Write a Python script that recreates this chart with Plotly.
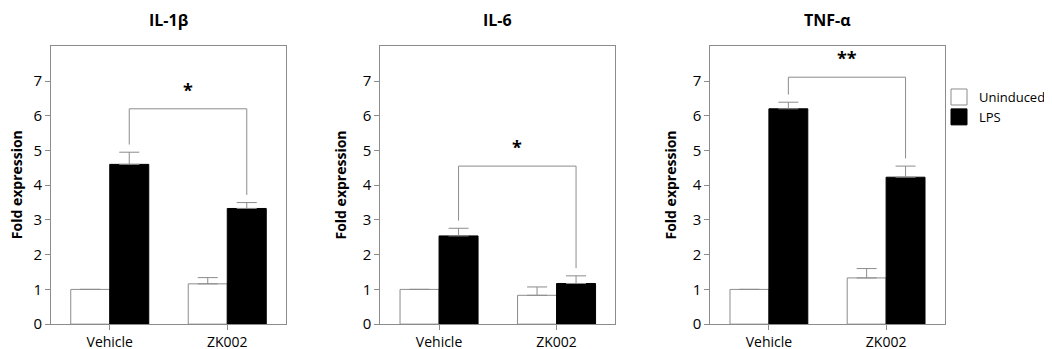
import plotly.graph_objects as go

W, H = 1052, 349

categories = ["Vehicle", "ZK002"]
panels = ["IL-1β", "IL-6", "TNF-α"]

uninduced = [[1.00, 1.16], [1.00, 0.83], [1.00, 1.33]]
uninduced_err = [[0.0, 0.18], [0.0, 0.24], [0.0, 0.27]]
lps = [[4.60, 3.33], [2.54, 1.17], [6.20, 4.23]]
lps_err = [[0.35, 0.17], [0.22, 0.22], [0.19, 0.32]]

bracket_y = [6.2, 4.55, 7.11]
stars = ["*", "*", "**"]

yticks = [0, 1, 2, 3, 4, 5, 6, 7]

GRAY = "#8c8c8c"
FONT = "Open Sans"

# pixel layout of the three plot boxes
x_px = [(43, 278), (372.3, 607.3), (702.3, 936.7)]
y_px = (39.3, 324.5)
ylabel_offset = [35, 40, 40]

bargap = 0.336
lps_offset = (1 - bargap) / 4  # center of the LPS bar relative to its category

fig = go.Figure()
layout = dict()
annotations = []
shapes = []

for i, name in enumerate(panels):
    xa = "x" if i == 0 else f"x{i+1}"
    ya = "y" if i == 0 else f"y{i+1}"
    fig.add_trace(go.Bar(
        x=categories, y=uninduced[i], xaxis=xa, yaxis=ya, name="Uninduced",
        marker=dict(color="white", line=dict(color=GRAY, width=1)),
        error_y=dict(type="data", array=uninduced_err[i], arrayminus=[0, 0], symmetric=False,
                     color=GRAY, thickness=1, width=10),
        showlegend=False, offsetgroup="u"))
    fig.add_trace(go.Bar(
        x=categories, y=lps[i], xaxis=xa, yaxis=ya, name="LPS",
        marker=dict(color="black", line=dict(color="black", width=1)),
        error_y=dict(type="data", array=lps_err[i], arrayminus=[0, 0], symmetric=False,
                     color=GRAY, thickness=1, width=10),
        showlegend=False, offsetgroup="l"))

    sfx = "" if i == 0 else str(i + 1)
    x0, x1 = x_px[i]
    layout["xaxis" + sfx] = dict(
        domain=[x0 / W, x1 / W], anchor=ya, range=[-0.5, 1.5], type="category",
        showline=True, linecolor=GRAY, linewidth=1, mirror=True,
        ticks="outside", ticklen=5, tickcolor=GRAY, showgrid=False,
        tickfont=dict(family=FONT, size=14, color="black"))
    layout["yaxis" + sfx] = dict(
        domain=[1 - y_px[1] / H, 1 - y_px[0] / H], anchor=xa, range=[0, 8],
        tickvals=yticks, showline=True, linecolor=GRAY, linewidth=1, mirror=True,
        ticks="outside", ticklen=5, tickcolor=GRAY, showgrid=False, zeroline=False,
        tickfont=dict(family=FONT, size=15, color="black"))

    # panel title
    annotations.append(dict(
        text=f"<b>{name}</b>", x=(x0 + x1) / 2 / W, y=1 - 12 / H, xref="paper", yref="paper",
        showarrow=False, xanchor="center", yanchor="middle",
        font=dict(family=FONT, size=16, color="black")))
    # y-axis title
    annotations.append(dict(
        text="<b>Fold expression</b>", x=(x0 - ylabel_offset[i]) / W,
        y=1 - (y_px[0] + y_px[1]) / 2 / H,
        xref="paper", yref="paper", showarrow=False, textangle=-90,
        xanchor="center", yanchor="middle",
        font=dict(family=FONT, size=14, color="black")))

    # significance bracket between the two LPS bars
    gap = 0.22
    xl = 0 + lps_offset
    xr = 1 + lps_offset
    left_end = lps[i][0] + lps_err[i][0] + gap
    right_end = lps[i][1] + lps_err[i][1] + gap
    by = bracket_y[i]
    shapes.append(dict(
        type="path", xref=xa, yref=ya,
        path=f"M {xl},{left_end} L {xl},{by} L {xr},{by} L {xr},{right_end}",
        line=dict(color=GRAY, width=1)))
    annotations.append(dict(
        text=f"<b>{stars[i]}</b>", x=(xl + xr) / 2, y=by, xref=xa, yref=ya,
        showarrow=False, xanchor="center", yanchor="bottom", yshift=5,
        font=dict(family=FONT, size=18, color="black")))

# legend entries
fig.add_trace(go.Scatter(
    x=[None], y=[None], mode="markers", name="Uninduced",
    marker=dict(symbol="square", size=16, color="white", line=dict(color=GRAY, width=1))))
fig.add_trace(go.Scatter(
    x=[None], y=[None], mode="markers", name="LPS",
    marker=dict(symbol="square", size=16, color="black", line=dict(color="black", width=1))))

fig.update_layout(
    **layout,
    width=W, height=H,
    margin=dict(l=0, r=0, t=0, b=0),
    paper_bgcolor="white", plot_bgcolor="white",
    barmode="group", bargap=bargap, bargroupgap=0,
    annotations=annotations, shapes=shapes,
    showlegend=True,
    legend=dict(x=931 / W, y=1 - 76 / H, xanchor="left", yanchor="top",
                font=dict(family=FONT, size=13, color="black"),
                itemsizing="trace", itemwidth=30, tracegroupgap=0,
                bgcolor="rgba(0,0,0,0)"),
)

fig.write_html("out.html")
